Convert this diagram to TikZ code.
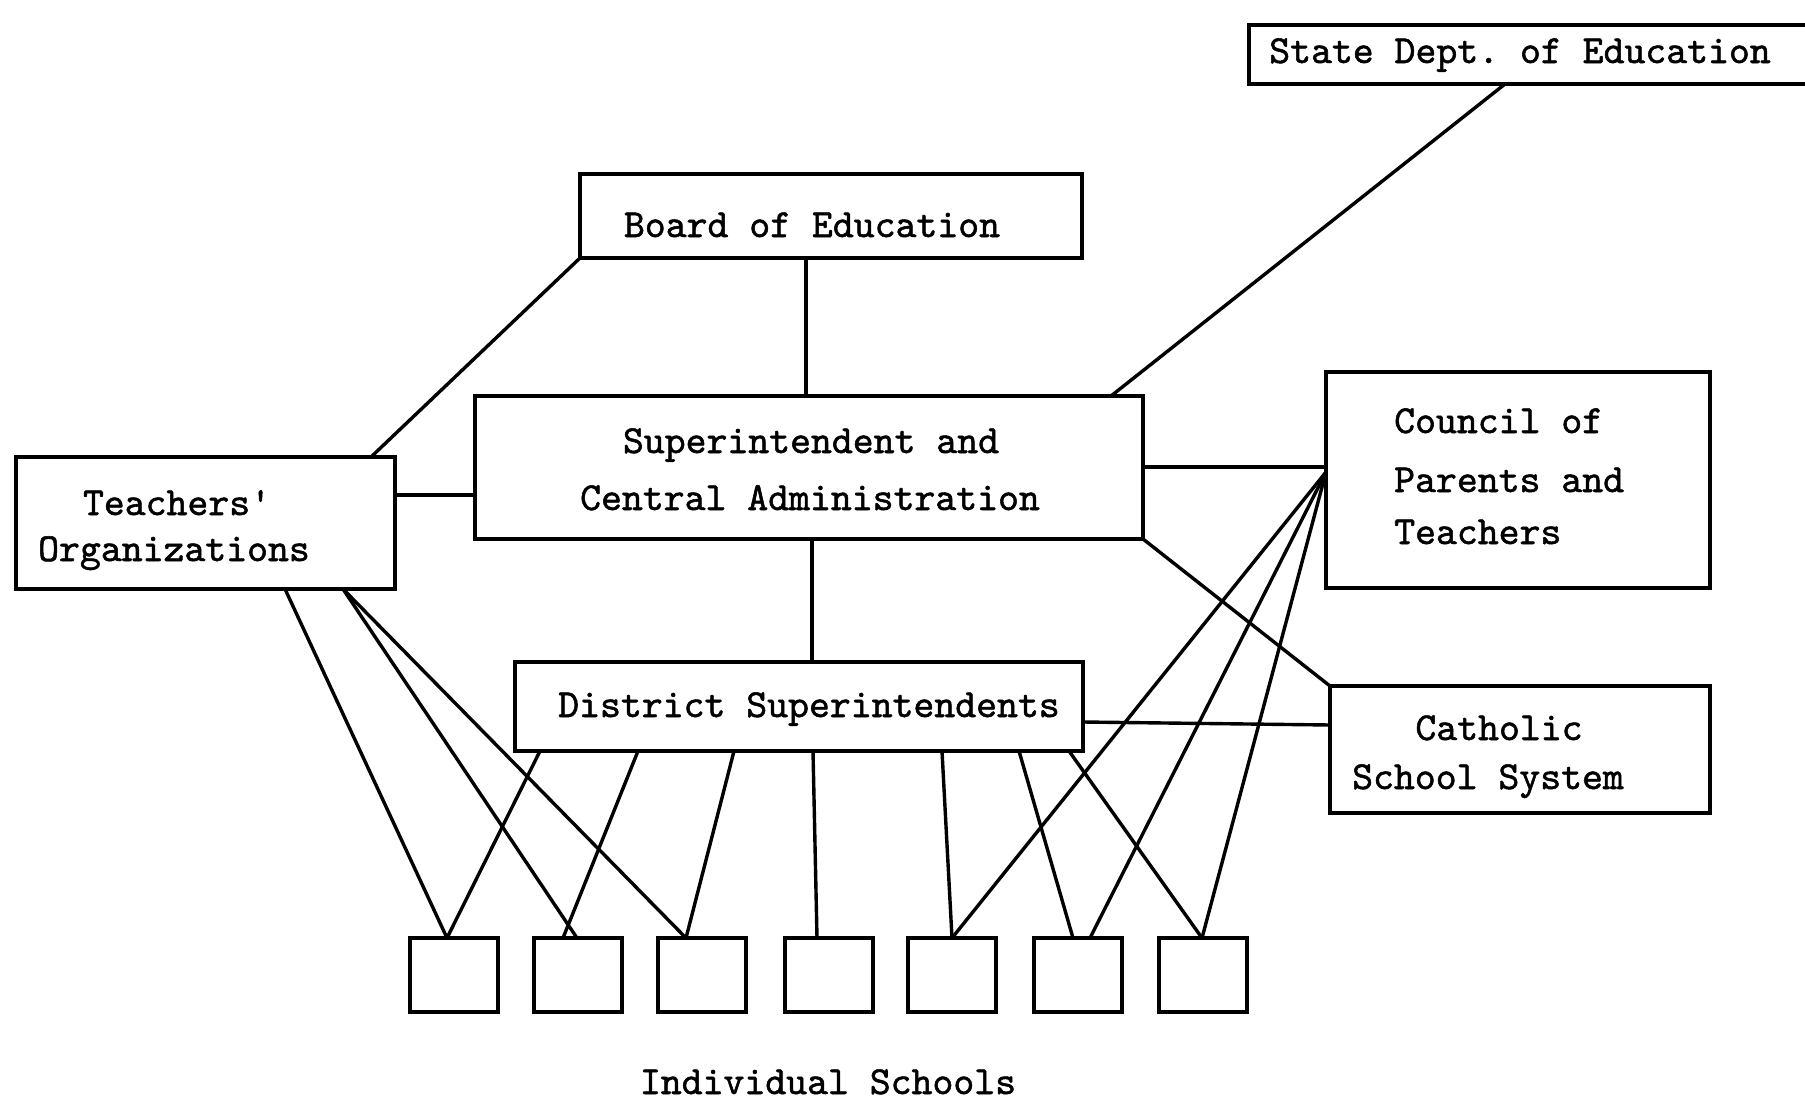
\documentclass[tikz,border=0pt]{standalone}
\usepackage{fontspec}
\setmonofont{lmmono10-regular.otf}[FakeBold=1.3]
\begin{document}
\begin{tikzpicture}[x=1pt,y=-1pt,
  box/.style={draw,line width=3.8pt,inner sep=0pt,outer sep=0pt,rectangle},
  school/.style={box,minimum width=88pt,minimum height=74pt},
  lnk/.style={line width=3.4pt},
  txt/.style={inner sep=0pt,anchor=base,font=\ttfamily\fontsize{39.8}{44}\selectfont},
  txtl/.style={txt,anchor=base west}]
\fill[white] (0,0) rectangle (1805,1100);
\useasboundingbox (0,0) rectangle (1805,1100);

% boxes
\node[box,minimum width=566pt,minimum height=59pt] (state) at (1532,54.5) {};
\node[box,minimum width=502pt,minimum height=84pt] (board) at (831,216) {};
\node[box,minimum width=668pt,minimum height=143pt] (sca) at (809,467.5) {};
\node[box,minimum width=379pt,minimum height=132pt] (teach) at (205.5,523) {};
\node[box,minimum width=384pt,minimum height=216pt] (council) at (1518,480) {};
\node[box,minimum width=568pt,minimum height=89pt] (district) at (799,706.5) {};
\node[box,minimum width=380pt,minimum height=127pt] (catholic) at (1520,749.5) {};
\node[school] (s1) at (454,975) {};
\node[school] (s2) at (578,975) {};
\node[school] (s3) at (702,975) {};
\node[school] (s4) at (829,975) {};
\node[school] (s5) at (952,975) {};
\node[school] (s6) at (1078,975) {};
\node[school] (s7) at (1203,975) {};

% texts
\node[txt] (stateT) at (1520,63) {State Dept. of Education};
\node[txt] (boardT) at (812,237) {Board of Education};
\node[txt] (scaT1) at (811,453) {Superintendent and};
\node[txt] (scaT2) at (810,510) {Central Administration};
\node[txt] (teachT1) at (177,515) {Teachers'};
\node[txt] (teachT2) at (174,561) {Organizations};
\node[txtl] (councilT1) at (1394,433) {Council of};
\node[txtl] (councilT2) at (1394,492) {Parents and};
\node[txtl] (councilT3) at (1394,544) {Teachers};
\node[txt] (districtT) at (809,717) {District Superintendents};
\node[txt] (catholicT1) at (1499,740) {Catholic};
\node[txt] (catholicT2) at (1488,789) {School System};
\node[txt] (schoolsT) at (828,1094) {Individual Schools};

% upper connectors
\draw[lnk] (board.south west) -- ([xshift=355pt]teach.north west);
\draw[lnk] ([xshift=226pt]board.south west) -- ([xshift=331pt]sca.north west);
\draw[lnk] ([xshift=256pt]state.south west) -- ([xshift=-32pt]sca.north east);
\draw[lnk] ([yshift=-38pt]teach.north east) -- ([yshift=-99pt]sca.north west);
\draw[lnk] ([yshift=-71pt]sca.north east) -- ([yshift=-95pt]council.north west);
\draw[lnk] (sca.south east) -- (catholic.north west);
\draw[lnk] ([xshift=337pt]sca.south west) -- ([xshift=297pt]district.north west);
\draw[lnk] ([yshift=-60pt]district.north east) -- ([yshift=-39pt]catholic.north west);

% teachers' organizations to schools
\draw[lnk] ([xshift=269pt]teach.south west) -- ([xshift=37pt]s1.north west);
\draw[lnk] ([xshift=327pt]teach.south west) -- ([xshift=43pt]s2.north west);
\draw[lnk] ([xshift=327pt]teach.south west) -- ([xshift=28pt]s3.north west);

% district superintendents to schools
\draw[lnk] ([xshift=25pt]district.south west) -- ([xshift=37pt]s1.north west);
\draw[lnk] ([xshift=123pt]district.south west) -- ([xshift=29pt]s2.north west);
\draw[lnk] ([xshift=219pt]district.south west) -- ([xshift=28pt]s3.north west);
\draw[lnk] ([xshift=298pt]district.south west) -- ([xshift=32pt]s4.north west);
\draw[lnk] ([xshift=427pt]district.south west) -- ([xshift=44pt]s5.north west);
\draw[lnk] ([xshift=504pt]district.south west) -- ([xshift=39pt]s6.north west);
\draw[lnk] ([xshift=554pt]district.south west) -- ([xshift=43pt]s7.north west);

% council to schools
\draw[lnk] ([yshift=-100pt]council.north west) -- ([xshift=44pt]s5.north west);
\draw[lnk] ([yshift=-100pt]council.north west) -- ([xshift=56pt]s6.north west);
\draw[lnk] ([yshift=-100pt]council.north west) -- ([xshift=43pt]s7.north west);
\end{tikzpicture}
\end{document}
